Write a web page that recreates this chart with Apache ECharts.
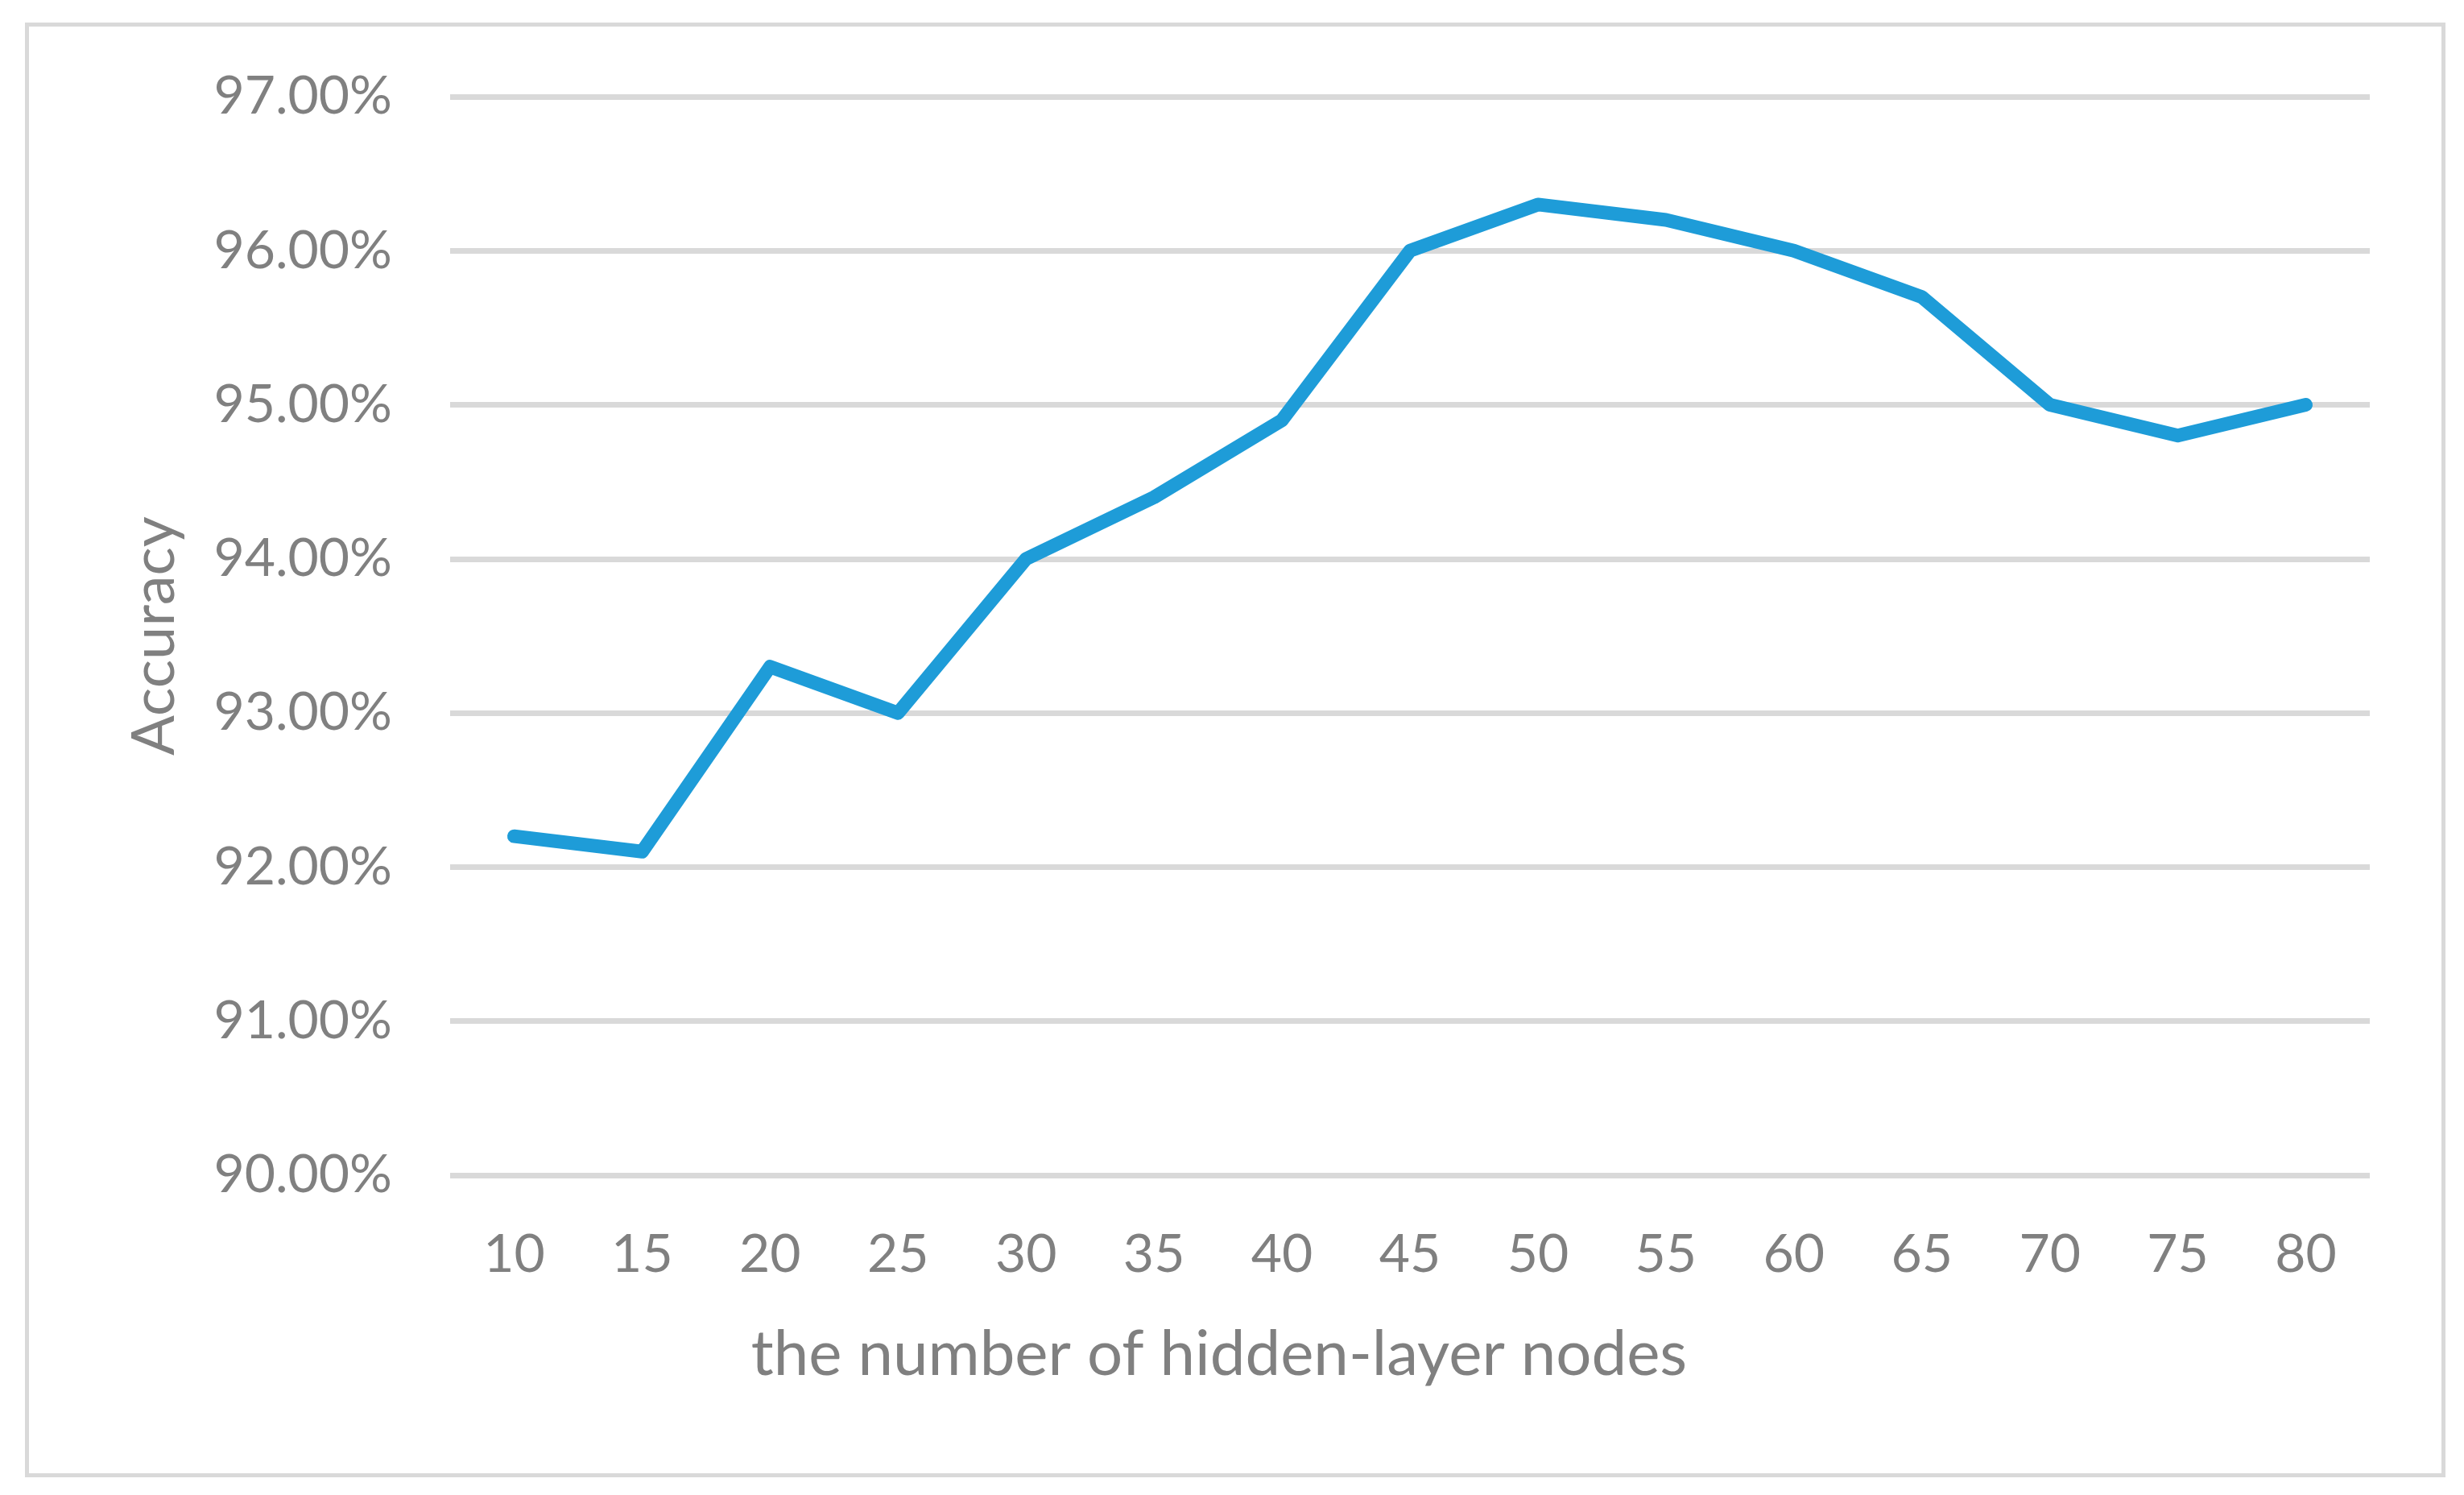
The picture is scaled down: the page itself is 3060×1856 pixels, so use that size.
<!DOCTYPE html>
<html>
<head>
<meta charset="utf-8">
<script src="https://cdn.jsdelivr.net/npm/echarts@6/dist/echarts.min.js"></script>
<style>
html,body{margin:0;padding:0;background:#fff;}
#frame{position:absolute;left:31px;top:28px;width:2996px;height:1796px;border:5px solid #d9d9d9;box-sizing:content-box;}
#chart{position:absolute;left:0;top:0;width:3060px;height:1856px;}
</style>
</head>
<body>
<div id="frame"></div>
<div id="chart"></div>
<script>
const categories = ['10','15','20','25','30','35','40','45','50','55','60','65','70','75','80'];
const accuracy = [92.2, 92.1, 93.3, 93.0, 94.0, 94.4, 94.9, 96.0, 96.3, 96.2, 96.0, 95.7, 95.0, 94.8, 95.0];
const yMin = 90, yMax = 97, yStep = 1;
const xTitle = 'the number of hidden-layer nodes';
const yTitle = 'Accuracy';

const gray = '#808080';
const font = 'Lato';
const chart = echarts.init(document.getElementById('chart'), null, {renderer: 'canvas'});
chart.setOption({
  animation: false,
  grid: {left: 559, right: 117, top: 120, bottom: 397, containLabel: false},
  xAxis: {
    type: 'category',
    data: categories,
    boundaryGap: true,
    axisLine: {show: false},
    axisTick: {show: false},
    axisLabel: {color: gray, fontFamily: font, fontSize: 66, margin: 66},
    name: xTitle,
    nameLocation: 'middle',
    nameGap: 184,
    nameTextStyle: {color: gray, fontFamily: font, fontSize: 78, padding: [0, 474, 0, 0]}
  },
  yAxis: {
    type: 'value',
    min: yMin, max: yMax, interval: yStep,
    axisLine: {show: false},
    axisTick: {show: false},
    splitLine: {show: true, lineStyle: {color: '#d9d9d9', width: 7}},
    axisLabel: {color: gray, fontFamily: font, fontSize: 66, margin: 72,
      formatter: v => v.toFixed(2) + '%'},
    name: yTitle,
    nameLocation: 'middle',
    nameGap: 330,
    nameTextStyle: {color: gray, fontFamily: font, fontSize: 74}
  },
  series: [{
    type: 'line',
    data: accuracy,
    symbol: 'none',
    lineStyle: {color: '#1e9cd8', width: 17, cap: 'round', join: 'round'}
  }]
});
</script>
</body>
</html>
